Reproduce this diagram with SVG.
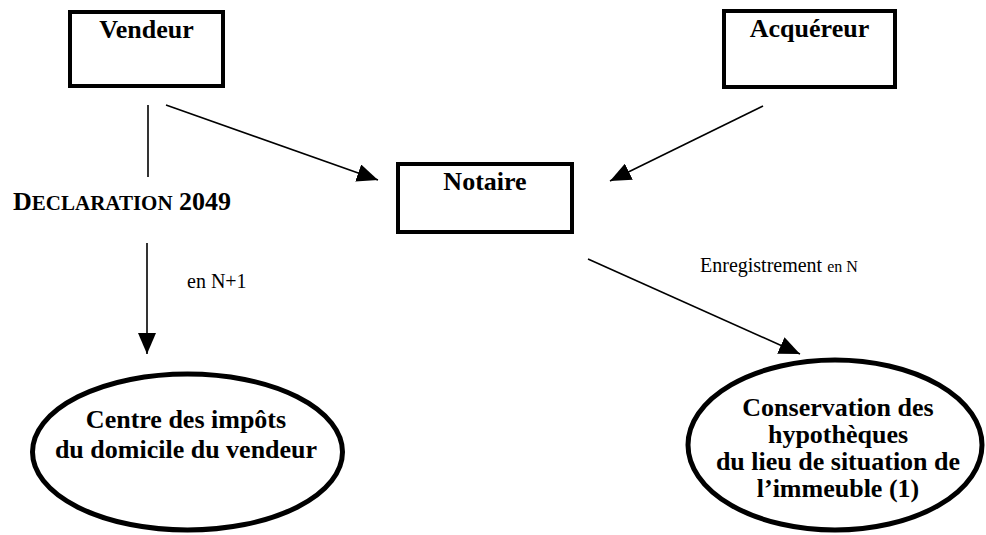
<svg xmlns="http://www.w3.org/2000/svg" width="986" height="535" viewBox="0 0 986 535">
<style>
.box{fill:#fff;stroke:#000;stroke-width:4}
.ell{fill:#fff;stroke:#000;stroke-width:5}
.lbl{font-family:"Liberation Serif","Times New Roman",serif;font-weight:bold;font-size:26px;fill:#000;text-anchor:middle}
.txt{font-family:"Liberation Serif","Times New Roman",serif;fill:#000}
.con{stroke:#000;stroke-width:1.6;fill:none}
</style>
<defs>
<marker id="ah" markerUnits="userSpaceOnUse" markerWidth="22" markerHeight="18" refX="21" refY="9" orient="auto">
<path d="M0,0 L21,9 L0,18 z" fill="#000"/>
</marker>
</defs>
<rect width="986" height="535" fill="#fff"/>
<g id="connectors">
<line class="con" x1="148" y1="105" x2="148" y2="177"/>
<line class="con" x1="147" y1="243" x2="147" y2="354" marker-end="url(#ah)"/>
<line class="con" x1="166" y1="105" x2="378" y2="180" marker-end="url(#ah)"/>
<line class="con" x1="763" y1="106" x2="610" y2="181" marker-end="url(#ah)"/>
<line class="con" x1="588" y1="259" x2="800" y2="354" marker-end="url(#ah)"/>
</g>
<g id="vendeur">
<rect class="box" x="70" y="12" width="153" height="74"/>
<text class="lbl" x="146.5" y="38">Vendeur</text>
</g>
<g id="acquereur">
<rect class="box" x="724" y="11" width="171" height="76"/>
<text class="lbl" x="809.5" y="37">Acquéreur</text>
</g>
<g id="notaire">
<rect class="box" x="398" y="164" width="174" height="68"/>
<text class="lbl" x="485" y="190">Notaire</text>
</g>
<g id="declaration">
<text class="txt" x="13" y="210" font-weight="bold" font-size="26"><tspan>D</tspan><tspan font-size="21">ECLARATION</tspan><tspan> 2049</tspan></text>
</g>
<g id="label-n1">
<text class="txt" x="187" y="288" font-size="20">en N+1</text>
</g>
<g id="label-enreg">
<text class="txt" x="700" y="272" font-size="20">Enregistrement <tspan font-size="16">en N</tspan></text>
</g>
<g id="centre-impots">
<ellipse class="ell" cx="187.5" cy="452" rx="155" ry="78"/>
<text class="lbl" x="186" y="428">Centre des impôts</text>
<text class="lbl" x="186" y="458">du domicile du vendeur</text>
</g>
<g id="conservation">
<ellipse class="ell" cx="835" cy="445" rx="147" ry="85"/>
<text class="lbl" x="838" y="416">Conservation des</text>
<text class="lbl" x="838" y="443">hypothèques</text>
<text class="lbl" x="838" y="470">du lieu de situation de</text>
<text class="lbl" x="838" y="497">l’immeuble (1)</text>
</g>
</svg>
